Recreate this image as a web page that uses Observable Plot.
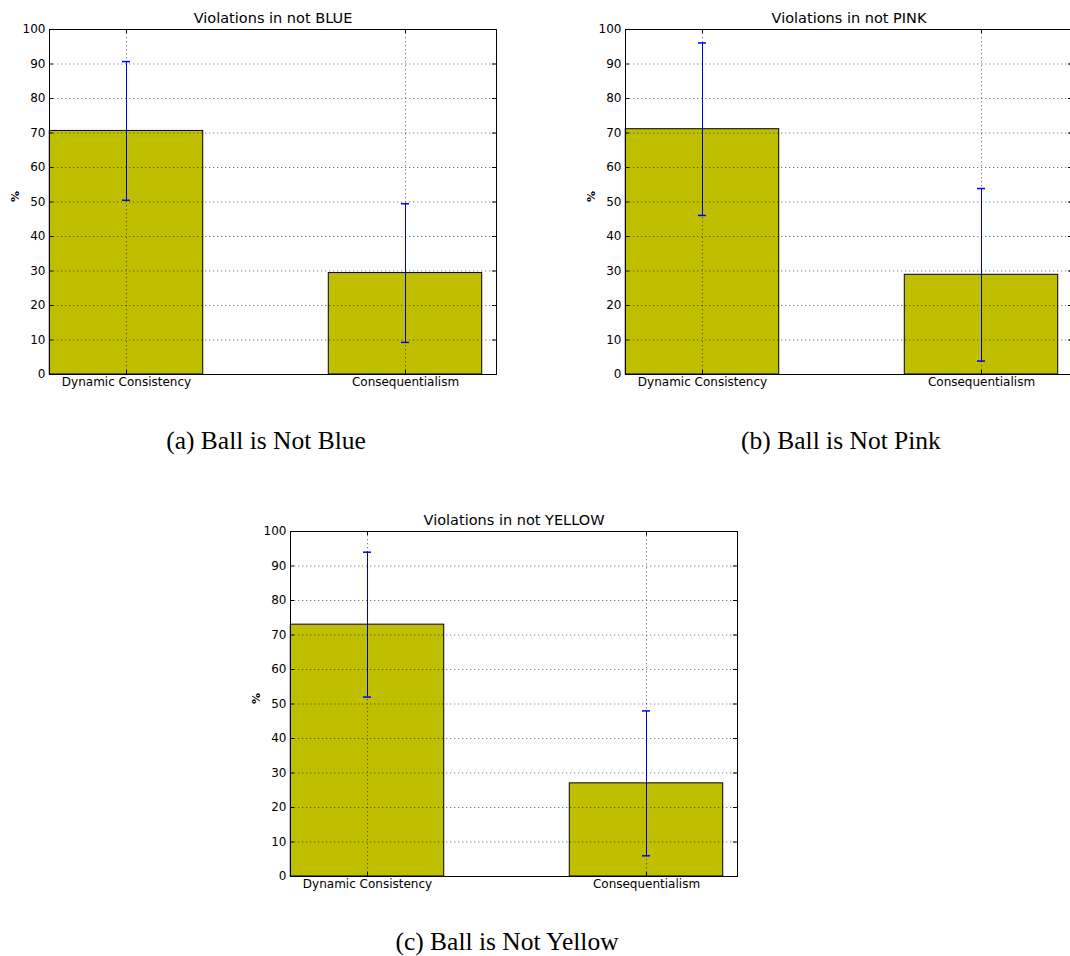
<!DOCTYPE html>
<html>
<head>
<meta charset="utf-8">
<script src="https://cdn.jsdelivr.net/npm/d3@7"></script>
<script src="https://cdn.jsdelivr.net/npm/@observablehq/plot@0.6"></script>
<style>
  body { margin: 0; background: #fff; }
  #fig { position: relative; width: 1070px; height: 956px; overflow: hidden; background: #fff; }
  .panel { position: absolute; }
  .panel svg { max-width: none !important; }
  .caption {
    position: absolute;
    font-family: "Liberation Serif", "DejaVu Serif", serif;
    font-size: 25.5px;
    color: #000;
    transform: translate(-50%, -50%);
    white-space: nowrap;
  }
</style>
</head>
<body>
<div id="fig"></div>
<script>
// Categories shared by all three panels
const categories = ["Dynamic Consistency", "Consequentialism"];

// Panel titles and captions
const titles = ["Violations in not BLUE", "Violations in not PINK", "Violations in not YELLOW"];
const captions = ["(a) Ball is Not Blue", "(b) Ball is Not Pink", "(c) Ball is Not Yellow"];

// Percent of violations per category, with error half-widths
const blueValues = [70.6, 29.4];
const blueErrors = [20.1, 20.1];
const pinkValues = [71.1, 28.9];
const pinkErrors = [25.0, 25.0];
const yellowValues = [73.0, 27.0];
const yellowErrors = [21.0, 21.0];

// Y-axis tick values
const yTicks = [0, 10, 20, 30, 40, 50, 60, 70, 80, 90, 100];

// Plot geometry: category centres land on whole pixels so the 1px lines stay crisp
const W = 447, H = 345, mL = 49, mT = 29, mR = 22, mB = 30;
const pxPerX = 279, firstCentre = 77;
const xDomain = [-firstCentre / pxPerX, (W - firstCentre) / pxPerX];
const pxPerY = H / 100;
const halfBar = 0.275;
const capHalf = 4 / pxPerX;
const tickLenX = 4 / pxPerX;
const tickLenY = 4 / pxPerY;

function panel(title, values, errors) {
  const rows = categories.map((c, i) => ({ i, c, v: values[i], e: errors[i] }));
  const caps = rows.flatMap(d => [{ i: d.i, y: d.v - d.e }, { i: d.i, y: d.v + d.e }]);
  const grid = { stroke: "#000", strokeWidth: 1, strokeOpacity: 0.5, strokeDasharray: "1.3,2.7" };
  return Plot.plot({
    width: mL + W + mR,
    height: mT + H + mB,
    marginLeft: mL,
    marginTop: mT,
    marginRight: mR,
    marginBottom: mB,
    style: { fontFamily: "DejaVu Sans, sans-serif", fontSize: "12px", color: "#000", background: "#fff", overflow: "visible", maxWidth: "none" },
    x: { domain: xDomain },
    y: { domain: [0, 100] },
    marks: [
      // bars
      Plot.rectY(rows, {
        x1: d => d.i - halfBar, x2: d => d.i + halfBar, y1: 0, y2: "v",
        fill: "#bfbf00", stroke: "#000", strokeWidth: 1
      }),
      // error bars
      Plot.ruleX(rows, { x: "i", y1: d => d.v - d.e, y2: d => d.v + d.e, stroke: "#0000ff", strokeWidth: 1 }),
      Plot.ruleY(caps, { y: "y", x1: d => d.i - capHalf, x2: d => d.i + capHalf, stroke: "#0000ff", strokeWidth: 1.5 }),
      // dotted grid
      Plot.ruleY(yTicks.slice(1), { ...grid }),
      Plot.ruleX([0, 1], { ...grid }),
      // inward ticks on all four sides
      Plot.ruleY(yTicks, { x1: xDomain[0], x2: xDomain[0] + tickLenX, stroke: "#000" }),
      Plot.ruleY(yTicks, { x1: xDomain[1] - tickLenX, x2: xDomain[1], stroke: "#000" }),
      Plot.ruleX([0, 1], { y1: 0, y2: tickLenY, stroke: "#000" }),
      Plot.ruleX([0, 1], { y1: 100 - tickLenY, y2: 100, stroke: "#000" }),
      Plot.frame({ stroke: "#000", strokeWidth: 1 }),
      // axes
      Plot.axisY({ ticks: yTicks, tickSize: 0, tickPadding: 4, label: null, fontSize: 12 }),
      Plot.axisX({ ticks: [0, 1], tickFormat: i => categories[i], tickSize: 0, tickPadding: 3, label: null, fontSize: 12 }),
      Plot.text(["%"], { frameAnchor: "left", dx: -34, rotate: -90, fontSize: 11, fontWeight: "bold" }),
      Plot.text([title], { frameAnchor: "top", lineAnchor: "middle", dy: -11, fontSize: 14.5 })
    ]
  });
}

const layout = [
  { left: 0,   top: 0,   cx: 266, cy: 441, values: blueValues,   errors: blueErrors },
  { left: 576, top: 0,   cx: 841, cy: 441, values: pinkValues,   errors: pinkErrors },
  { left: 241, top: 502, cx: 507, cy: 942, values: yellowValues, errors: yellowErrors }
];

const fig = document.getElementById("fig");
layout.forEach((p, k) => {
  const wrap = document.createElement("div");
  wrap.className = "panel";
  wrap.style.left = p.left + "px";
  wrap.style.top = p.top + "px";
  wrap.appendChild(panel(titles[k], p.values, p.errors));
  fig.appendChild(wrap);
  const cap = document.createElement("div");
  cap.className = "caption";
  cap.style.left = p.cx + "px";
  cap.style.top = p.cy + "px";
  cap.textContent = captions[k];
  fig.appendChild(cap);
});
</script>
</body>
</html>
